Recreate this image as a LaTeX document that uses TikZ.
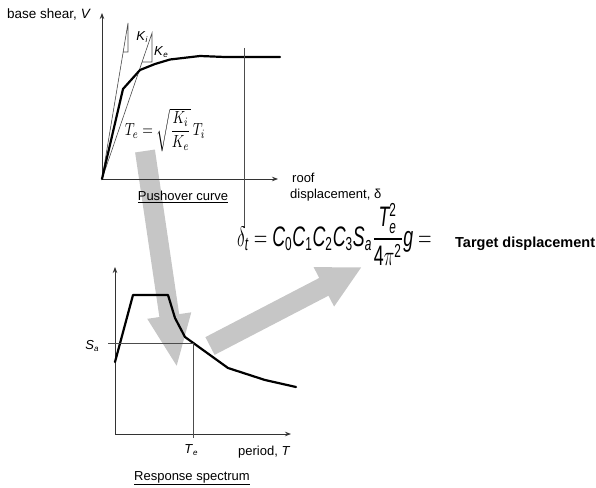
\documentclass[tikz,border=0pt]{standalone}
\usepackage{fontspec}
\setmainfont{Liberation Sans}
\usepackage{amsmath}
\usepackage{graphicx}
\usetikzlibrary{arrows.meta}
\begin{document}
\begin{tikzpicture}[x=1pt,y=-1pt,
 axis/.style={draw=black!80, line width=0.8pt, -{Stealth[length=6pt,width=4.5pt]}},
 thinl/.style={draw=black!70, line width=0.6pt},
 curve/.style={draw=black, line width=2.2pt, line join=round, line cap=round},
 bigarrow/.style={draw=gray!45, line width=20pt},
 lbl/.style={inner sep=0pt, font=\fontsize{13}{15}\selectfont},
 ttl/.style={inner sep=0pt, font=\fontsize{13}{15}\selectfont},
]
\useasboundingbox (0,0) rectangle (596,487);

% big gray arrows (behind)
\coordinate (a1s) at (145,151);
\coordinate (a1e) at (177,368);
\draw[bigarrow, -{Triangle[width=40pt,length=53pt]}] (a1s) -- (a1e);
\coordinate (a2s) at (210,346);
\coordinate (a2e) at (362,267);
\draw[bigarrow, -{Triangle[width=41pt,length=43pt]}] (a2s) -- (a2e);

% ---- pushover plot
\coordinate (O1) at (102,179);
\coordinate (Y1) at (102,13);
\coordinate (X1) at (278,179);
\draw[axis] (O1) -- (Y1);
\draw[axis] (O1) -- (X1);
\coordinate (ki) at (128,23);
\coordinate (ke) at (152,33);
\draw[thinl] (O1) -- (ki) -- (128,52) -- (123.2,52);
\draw[thinl] (O1) -- (ke) -- (152,62) -- (142.1,62);
\draw[curve] (O1) -- (123,89) -- (140,70) -- (155,64) -- (170,59.5) -- (200,56) -- (225,57) -- (280,57);
\draw[thinl] (244,48) -- (244,228);

\node[lbl, anchor=base west, font=\fontsize{13.5}{15}\selectfont] (vs) at (7,19) {base shear, \textit{V}};
\node[inner sep=0pt, font=\fontsize{13}{15}\selectfont] (kil) at (142,37) {\textit{K}\raisebox{-0.35ex}{\fontsize{8}{9}\selectfont\textit{i}}};
\node[inner sep=0pt, font=\fontsize{13}{15}\selectfont] (kel) at (161,52) {\textit{K}\raisebox{-0.35ex}{\fontsize{8}{9}\selectfont\textit{e}}};
\node[inner sep=0pt] (tef) at (165,130) {\scalebox{1.25}[1.6]{\fontsize{11}{13}\selectfont$T_e=\sqrt{\dfrac{K_i}{K_e}}\,T_i$}};
\node[lbl, anchor=base west] (roof) at (292,182) {roof};
\node[lbl, anchor=base west] (disp) at (290,198) {displacement, δ};
\node[ttl, anchor=base] (push) at (183,200) {\underline{Pushover curve}};

% ---- formula
\node[anchor=base west, inner sep=0pt] (dt) at (237,246) {\scalebox{1.48}[2.35]{\fontsize{12}{14}\selectfont$\delta_{\mathit{t}}=\mathit{C}_{\mathrm{0}}\mathit{C}_{\mathrm{1}}\mathit{C}_{\mathrm{2}}\mathit{C}_{\mathrm{3}}\mathit{S}_{\mathit{a}}\dfrac{\mathit{T}_{\mathit{e}}^{\mathrm{2}}}{\mathrm{4}\pi^{\mathrm{2}}}\mathit{g}=$}};
\node[anchor=base west, inner sep=0pt, font=\fontsize{14.5}{16}\selectfont\bfseries] (td) at (455,247) {Target displacement};

% ---- spectrum plot
\coordinate (O2) at (115,434);
\coordinate (Y2) at (115,267);
\coordinate (X2) at (291,434);
\draw[axis] (O2) -- (Y2);
\draw[axis] (O2) -- (X2);
\draw[curve] (115,362) -- (133,295) -- (168,295) -- (175,318) -- (185,337) -- (228,368) -- (265,380) -- (296,387);
\draw[thinl] (108,343) -- (193,343) -- (193,438);
\node[inner sep=0pt, font=\fontsize{13}{15}\selectfont] (sa) at (92,346) {\textit{S}\raisebox{-0.35ex}{\fontsize{8}{9}\selectfont\textit{a}}};
\node[inner sep=0pt, font=\fontsize{13}{15}\selectfont] (tel) at (191,450) {\textit{T}\raisebox{-0.35ex}{\fontsize{8}{9}\selectfont\textit{e}}};
\node[lbl, anchor=base west] (per) at (238,455) {period, \textit{T}};
\node[ttl, anchor=base] (resp) at (192,480) {\underline{Response spectrum}};
\end{tikzpicture}
\end{document}
